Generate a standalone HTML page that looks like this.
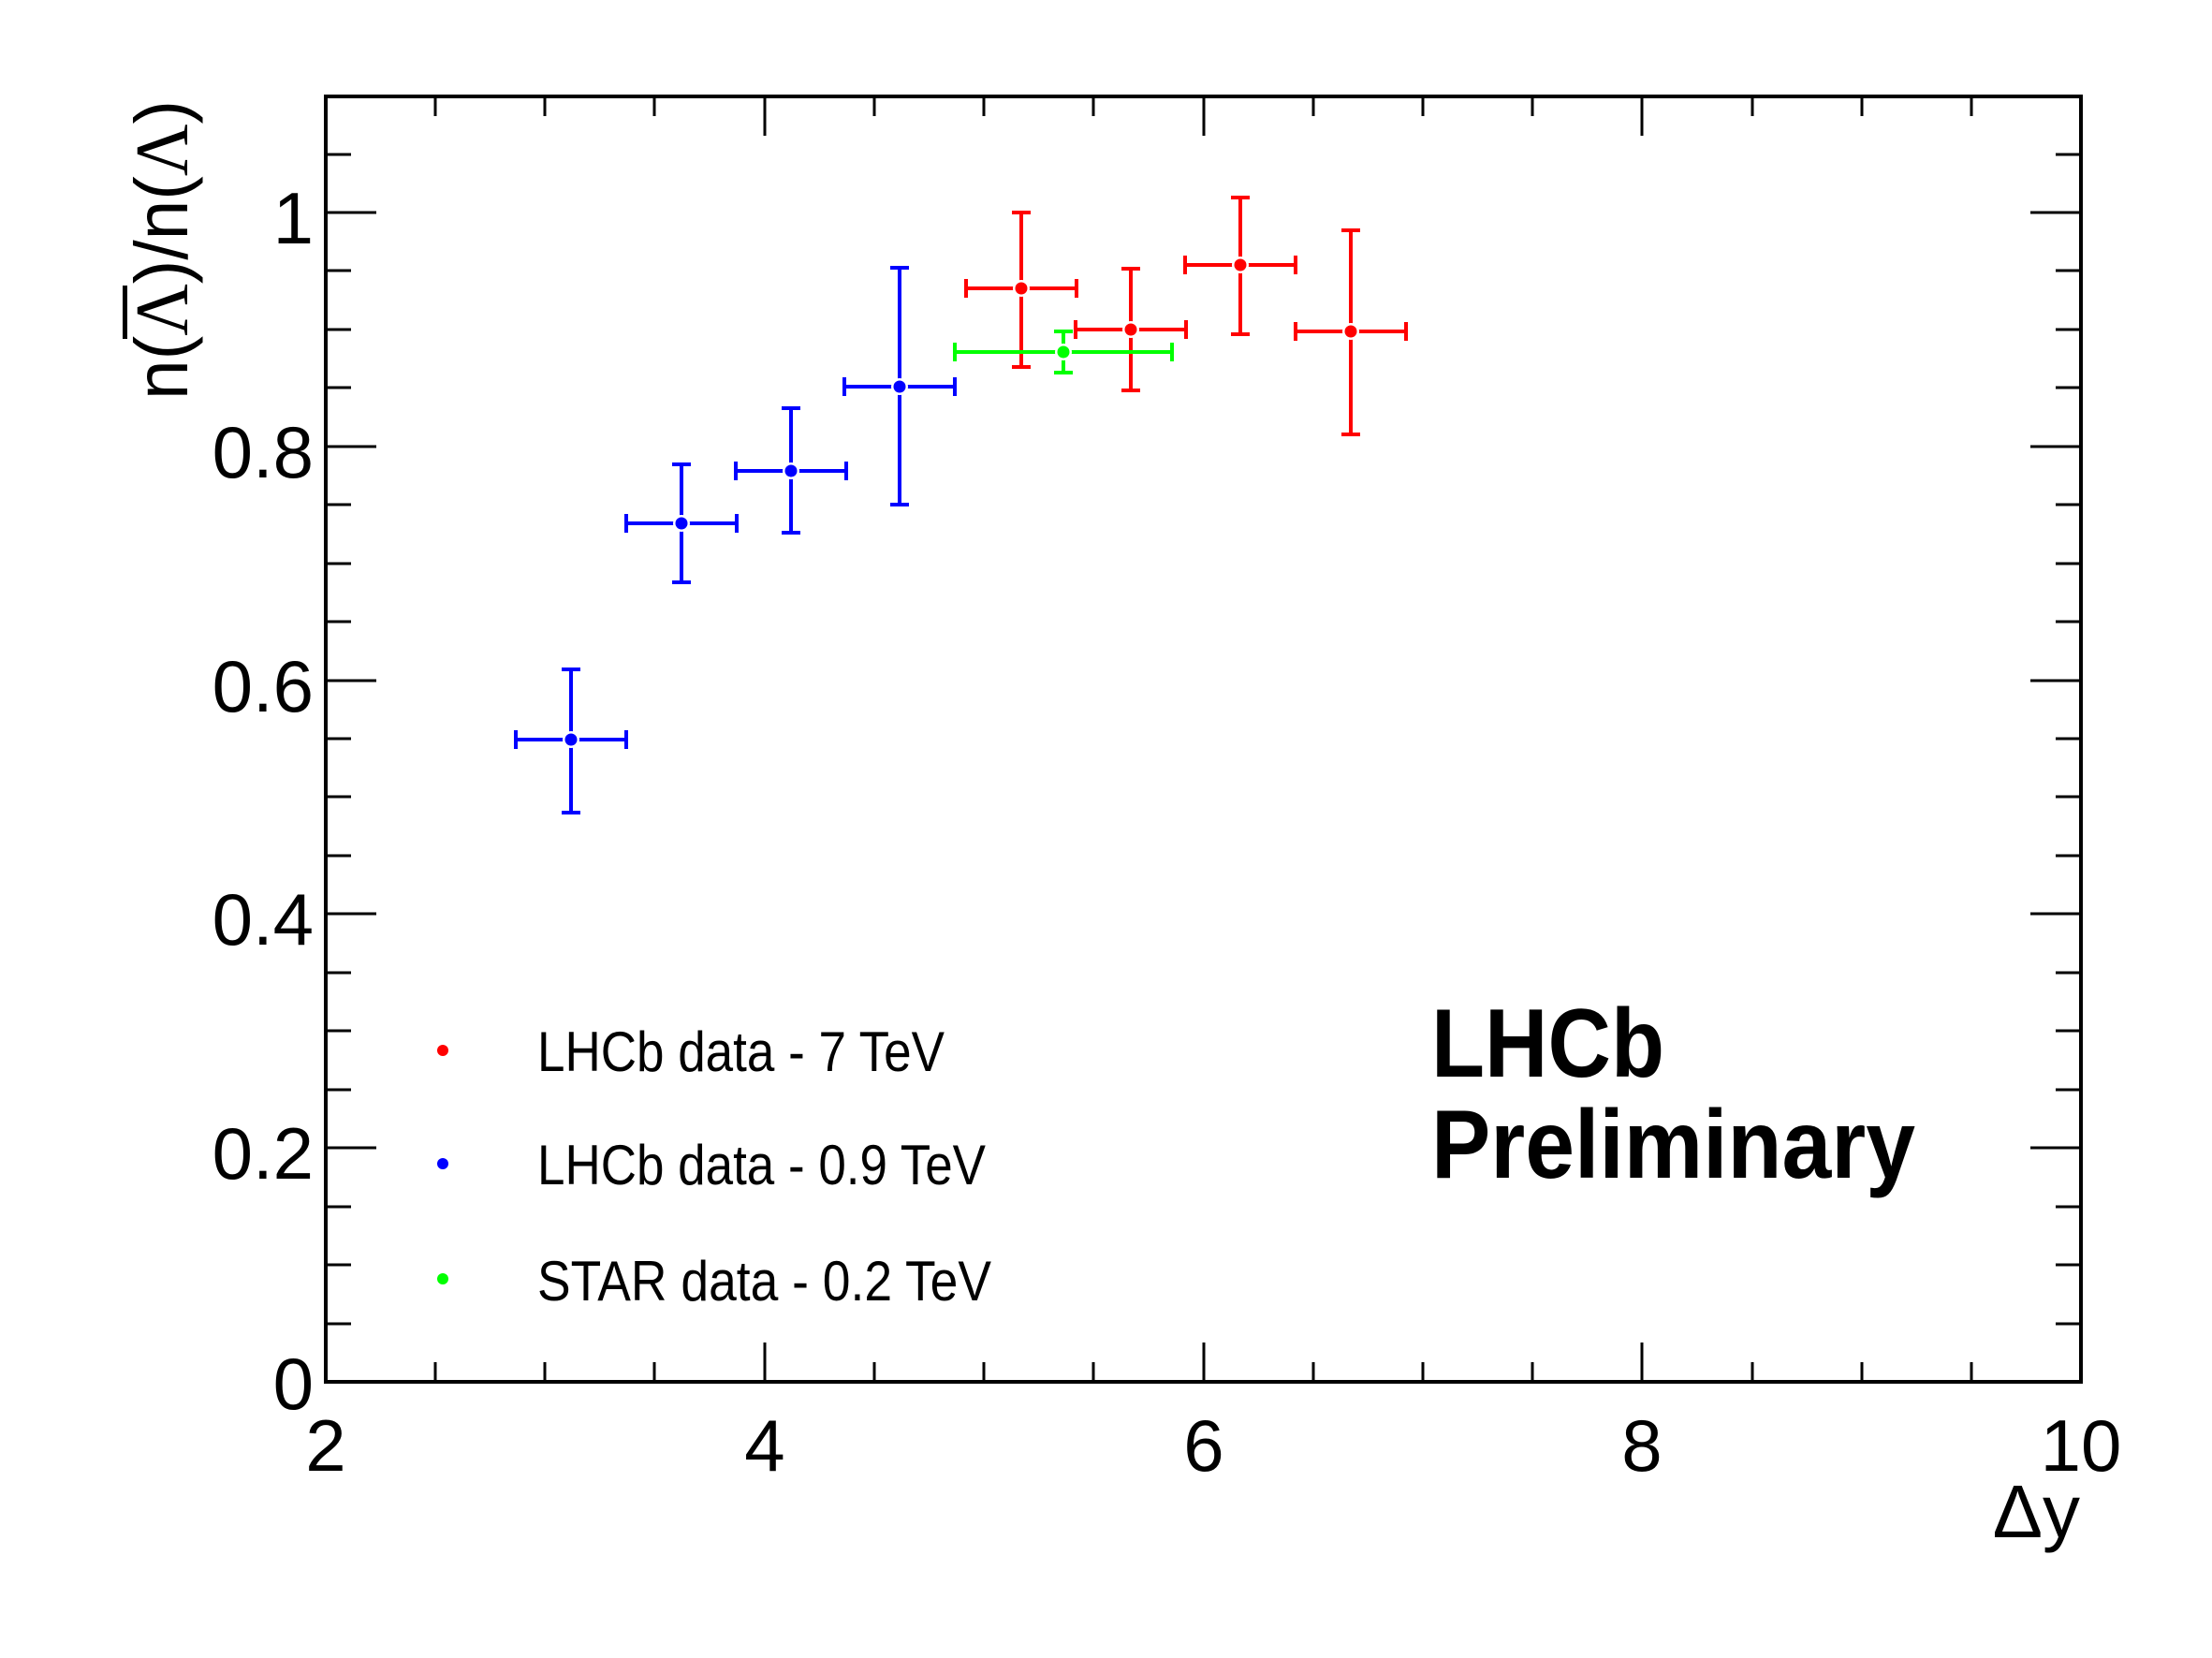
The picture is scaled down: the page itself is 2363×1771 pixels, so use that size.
<!DOCTYPE html>
<html><head><meta charset="utf-8"><style>
html,body{margin:0;padding:0;background:#fff;}
svg{display:block;}
text{font-family:"Liberation Sans",sans-serif;}
</style></head><body>
<svg width="2363" height="1771" viewBox="0 0 2363 1771" xmlns="http://www.w3.org/2000/svg">
<rect width="2363" height="1771" fill="#fff"/>
<!-- frame -->
<rect x="348" y="103" width="1875" height="1373" fill="none" stroke="#000" stroke-width="4"/>
<!-- ticks -->
<path stroke="#000" stroke-width="3" fill="none" d="
M817,1476V1434 M1286,1476V1434 M1754,1476V1434
M817,103V145 M1286,103V145 M1754,103V145
M465,1476V1455 M582,1476V1455 M699,1476V1455 M934,1476V1455 M1051,1476V1455 M1168,1476V1455 M1403,1476V1455 M1520,1476V1455 M1637,1476V1455 M1872,1476V1455 M1989,1476V1455 M2106,1476V1455
M465,103V124 M582,103V124 M699,103V124 M934,103V124 M1051,103V124 M1168,103V124 M1403,103V124 M1520,103V124 M1637,103V124 M1872,103V124 M1989,103V124 M2106,103V124
M348,1226H402 M348,976H402 M348,727H402 M348,477H402 M348,227H402
M2223,1226H2169 M2223,976H2169 M2223,727H2169 M2223,477H2169 M2223,227H2169
M348,1414H375 M348,1351H375 M348,1289H375 M348,1164H375 M348,1101H375 M348,1039H375 M348,914H375 M348,851H375 M348,789H375 M348,664H375 M348,602H375 M348,539H375 M348,414H375 M348,352H375 M348,289H375 M348,165H375
M2223,1414H2196 M2223,1351H2196 M2223,1289H2196 M2223,1164H2196 M2223,1101H2196 M2223,1039H2196 M2223,914H2196 M2223,851H2196 M2223,789H2196 M2223,664H2196 M2223,602H2196 M2223,539H2196 M2223,414H2196 M2223,352H2196 M2223,289H2196 M2223,165H2196
"/>
<!-- tick labels -->
<g font-size="78" fill="#000">
<g text-anchor="middle">
<text x="348" y="1571">2</text>
<text x="817" y="1571">4</text>
<text x="1286" y="1571">6</text>
<text x="1754" y="1571">8</text>
<text x="2223" y="1571">10</text>
</g>
<g text-anchor="end">
<text x="335" y="1505">0</text>
<text x="335" y="1259">0.2</text>
<text x="335" y="1009">0.4</text>
<text x="335" y="760">0.6</text>
<text x="335" y="510">0.8</text>
<text x="335" y="260">1</text>
</g>
</g>
<!-- axis titles -->
<text x="2222" y="1642" font-size="80" text-anchor="end">Δy</text>
<g transform="translate(200,427) rotate(-90)">
<text x="0" y="0" font-size="80" textLength="320" lengthAdjust="spacingAndGlyphs">n(<tspan font-family="Liberation Serif">Λ</tspan>)/n(<tspan font-family="Liberation Serif">Λ</tspan>)</text>
</g>
<rect x="131" y="305" width="5" height="57" fill="#000"/>
<!-- blue -->
<g stroke="#0000ff" stroke-width="4" fill="none">
<path d="M551,790H669 M610,715V868 M551,780V800 M669,780V800 M600,715H620 M600,868H620"/>
<path d="M669,559H787 M728,496V622 M669,549V569 M787,549V569 M718,496H738 M718,622H738"/>
<path d="M786,503H904 M845,436V569 M786,493V513 M904,493V513 M835,436H855 M835,569H855"/>
<path d="M902,413H1020 M961,286V539 M902,403V423 M1020,403V423 M951,286H971 M951,539H971"/>
</g>
<g fill="#fff"><circle cx="610" cy="790" r="9"/><circle cx="728" cy="559" r="9"/><circle cx="845" cy="503" r="9"/><circle cx="961" cy="413" r="9"/></g>
<g fill="#0000ff"><circle cx="610" cy="790" r="6.5"/><circle cx="728" cy="559" r="6.5"/><circle cx="845" cy="503" r="6.5"/><circle cx="961" cy="413" r="6.5"/></g>
<!-- red -->
<g stroke="#ff0000" stroke-width="4" fill="none">
<path d="M1032,308H1150 M1091,227V392 M1032,298V318 M1150,298V318 M1081,227H1101 M1081,392H1101"/>
<path d="M1149,352H1267 M1208,287V417 M1149,342V362 M1267,342V362 M1198,287H1218 M1198,417H1218"/>
<path d="M1266,283H1384 M1325,211V357 M1266,273V293 M1384,273V293 M1315,211H1335 M1315,357H1335"/>
<path d="M1384,354H1502 M1443,246V464 M1384,344V364 M1502,344V364 M1433,246H1453 M1433,464H1453"/>
</g>
<g fill="#fff"><circle cx="1091" cy="308" r="9"/><circle cx="1208" cy="352" r="9"/><circle cx="1325" cy="283" r="9"/><circle cx="1443" cy="354" r="9"/></g>
<g fill="#ff0000"><circle cx="1091" cy="308" r="6.5"/><circle cx="1208" cy="352" r="6.5"/><circle cx="1325" cy="283" r="6.5"/><circle cx="1443" cy="354" r="6.5"/></g>
<!-- green -->
<g stroke="#00ff00" stroke-width="4" fill="none">
<path d="M1020,376H1252 M1136,354V398 M1020,366V386 M1252,366V386 M1126,354H1146 M1126,398H1146"/>
</g>
<circle cx="1136" cy="376" r="9" fill="#fff"/>
<circle cx="1136" cy="376" r="6.5" fill="#00ff00"/>
<!-- legend -->
<circle cx="473" cy="1122" r="6" fill="#ff0000"/>
<circle cx="473" cy="1243" r="6" fill="#0000ff"/>
<circle cx="473" cy="1366" r="6" fill="#00ff00"/>
<g font-size="60" fill="#000">
<text x="574" y="1144" textLength="435" lengthAdjust="spacingAndGlyphs">LHCb data - 7 TeV</text>
<text x="574" y="1265" textLength="479" lengthAdjust="spacingAndGlyphs">LHCb data - 0.9 TeV</text>
<text x="574" y="1389" textLength="485" lengthAdjust="spacingAndGlyphs">STAR data - 0.2 TeV</text>
</g>
<!-- LHCb Preliminary -->
<g font-size="104" font-weight="bold" fill="#000">
<text x="1529" y="1150" textLength="249" lengthAdjust="spacingAndGlyphs">LHCb</text>
<text x="1529" y="1258" textLength="517" lengthAdjust="spacingAndGlyphs">Preliminary</text>
</g>
</svg>
</body></html>
